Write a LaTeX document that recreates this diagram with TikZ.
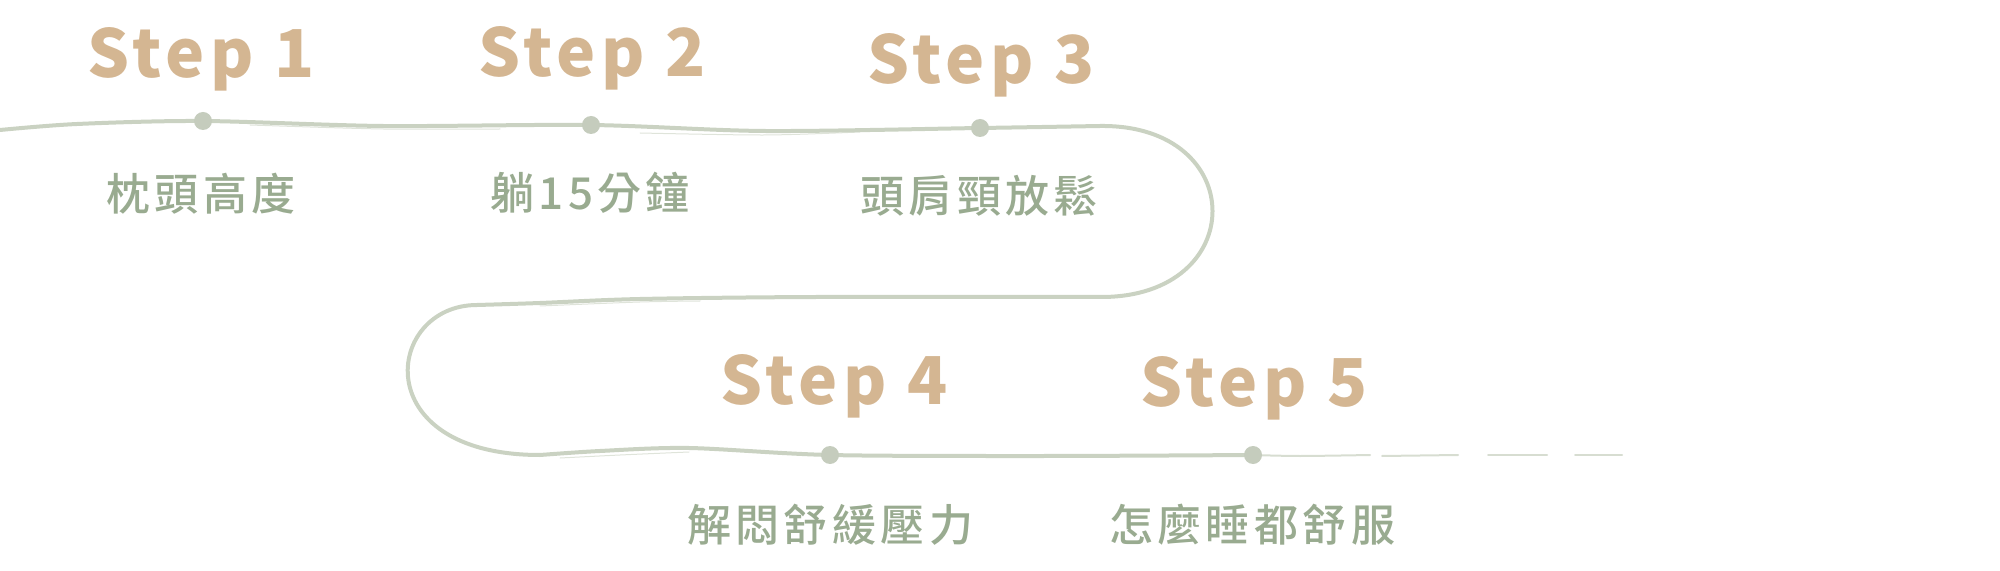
\documentclass[tikz,border=0pt]{standalone}
\usepackage{fontspec}
\newfontfamily\stepfont{Noto Sans CJK TC}[LetterSpace=8]
\newfontfamily\lblfont{Noto Sans CJK TC Medium}[LetterSpace=10]
\definecolor{tan}{HTML}{D4B692}
\definecolor{sage}{HTML}{99AB90}
\definecolor{trailc}{HTML}{CAD2C2}
\definecolor{dotc}{HTML}{C5CCBD}
\begin{document}
\begin{tikzpicture}[x=0.5pt,y=-0.5pt,
  steptxt/.style={anchor=base,inner sep=0pt,text=tan,font=\stepfont\bfseries\fontsize{33pt}{33pt}\selectfont},
  lbl/.style={anchor=center,inner sep=0pt,text=sage,font=\lblfont\fontsize{22pt}{22pt}\selectfont},
  dot/.style={circle,fill=dotc,minimum size=9pt,inner sep=0pt},
  trail/.style={draw=trailc,line width=2pt,line cap=round,line join=round},
  thintrail/.style={draw=trailc,line width=1pt,line cap=round,opacity=0.75},
  strand/.style={draw=trailc,line width=0.5pt,opacity=0.6,line cap=round}]
\useasboundingbox (0,0) rectangle (2000,571);
% dots
\coordinate (p1) at (203,121);
\coordinate (p2) at (591,125);
\coordinate (p3) at (980,128);
\coordinate (p4) at (830,455);
\coordinate (p5) at (1253,455);
% trail
\draw[trail] plot[smooth,tension=0.5] coordinates {(0,130) (77,124) (p1) (383,126) (p2) (765,131) (p3) (1100,126)}
  .. controls (1250,124) and (1250,298) .. (1100,297)
  -- plot[smooth,tension=0.5] coordinates {(1100,297) (816,297) (640,299) (540,303) (477,305)}
  .. controls (385,305) and (365,455) .. (540,455)
  -- plot[smooth,tension=0.5] coordinates {(540,455) (600,451) (689,448) (p4) (1040,456) (p5)};
\draw[thintrail] plot[smooth,tension=0.5] coordinates {(p5) (1300,456) (1370,455)};
\draw[thintrail] (1382,456) -- (1458,455);
\draw[thintrail] (1488,455) -- (1547,455);
\draw[thintrail] (1575,455) -- (1622,455);
% faint strands for a brush look
\draw[strand] plot[smooth,tension=0.5] coordinates {(250,125) (383,129) (500,129)};
\draw[strand] plot[smooth,tension=0.5] coordinates {(640,133) (765,135) (860,132)};
\draw[strand] plot[smooth,tension=0.5] coordinates {(700,301) (640,302) (540,306)};
\draw[strand] plot[smooth,tension=0.5] coordinates {(560,458) (620,455) (689,452)};
% dots on top
\node[dot] (d1) at (p1) {};
\node[dot] (d2) at (p2) {};
\node[dot] (d3) at (p3) {};
\node[dot] (d4) at (p4) {};
\node[dot] (d5) at (p5) {};
% step titles
\node[steptxt] (s1) at (201,78) {Step 1};
\node[steptxt] (s2) at (592,77) {Step 2};
\node[steptxt] (s3) at (981,84) {Step 3};
\node[steptxt] (s4) at (834,404) {Step 4};
\node[steptxt] (s5) at (1254,406) {Step 5};
% labels
\node[lbl] (l1) at (201,194) {枕頭高度};
\node[lbl] (l2) at (590,193) {躺15分鐘};
\node[lbl] (l3) at (979,196) {頭肩頸放鬆};
\node[lbl] (l4) at (830,525) {解悶舒緩壓力};
\node[lbl] (l5) at (1252,525) {怎麼睡都舒服};
\end{tikzpicture}
\end{document}
